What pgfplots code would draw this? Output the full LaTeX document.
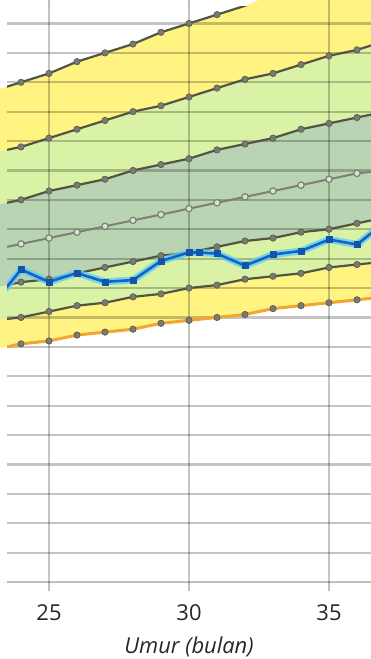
\documentclass[border=0pt]{standalone}
\usepackage{pgfplots}
\pgfplotsset{compat=1.18}
\usepackage{pgfplotstable}
\usepackage{fontspec}
\setmainfont{Open Sans}

\definecolor{zyellow}{RGB}{255,243,130}
\definecolor{zlgreen}{RGB}{218,242,166}
\definecolor{zdgreen}{RGB}{184,212,178}
\definecolor{curveline}{RGB}{82,84,68}
\definecolor{medline}{RGB}{125,128,115}
\definecolor{dotfill}{RGB}{122,122,112}
\definecolor{zorange}{RGB}{242,166,48}
\definecolor{childblue}{RGB}{22,98,200}
\definecolor{childglow}{RGB}{95,205,245}

% WHO weight-for-age (girls), z-score curves, kg
\pgfplotstableread{
m   m3   m2   m1    med   p1    p2    p3
23  7.9  8.9  10.0  11.3  12.8  14.6  16.7
24  8.1  9.0  10.2  11.5  13.0  14.8  17.0
25  8.2  9.2  10.3  11.7  13.3  15.1  17.3
26  8.4  9.4  10.5  11.9  13.5  15.4  17.7
27  8.5  9.5  10.7  12.1  13.7  15.7  18.0
28  8.6  9.7  10.9  12.3  14.0  16.0  18.3
29  8.8  9.8  11.1  12.5  14.2  16.2  18.7
30  8.9  10.0 11.2  12.7  14.4  16.5  19.0
31  9.0  10.1 11.4  12.9  14.7  16.8  19.3
32  9.1  10.3 11.6  13.1  14.9  17.1  19.6
33  9.3  10.4 11.7  13.3  15.1  17.3  20.0
34  9.4  10.5 11.9  13.5  15.4  17.6  20.3
35  9.5  10.7 12.0  13.7  15.6  17.9  20.6
36  9.6  10.8 12.2  13.9  15.8  18.1  20.9
37  9.7  10.9 12.4  14.0  16.0  18.4  21.2
}\whotable

% child's measurements
\pgfplotstableread{
m      w
23     9.45
24     10.63
25     10.21
26     10.51
27     10.21
28     10.27
29     10.92
30     11.21
30.35  11.21
31     11.17
32     10.76
33     11.14
34     11.26
35     11.65
36     11.48
37     12.24
}\childtable

\begin{document}
\begin{tikzpicture}
\begin{axis}[
  set layers,
  scale only axis,
  width=364bp, height=575bp,
  xmin=23.5, xmax=36.5, ymin=0, ymax=19.56,
  xtick={25,30,35},
  ytick={0,...,19},
  yticklabels={},
  ytick style={draw=none},
  xtick style={draw=black, draw opacity=0.25, line width=2bp},
  tick align=outside,
  major tick length=9bp,
  grid=major,
  grid style={draw=black, draw opacity=0.23, line width=2.2bp},
  axis line style={draw=none},
  /pgf/number format/assume math mode=true,
  tick label style={font=\fontsize{22}{26}\selectfont, text=black!85},
  xticklabel style={yshift=-10bp},
  xlabel={\itshape Umur (bulan)},
  xlabel style={font=\fontsize{22}{26}\selectfont, text=black!85, yshift=-9bp},
  every axis plot/.append style={line join=round},
]
% colour bands, painted from the top curve downwards
\addplot[fill=zyellow, draw=none, on layer=axis background] table[x=m,y=p3] {\whotable} \closedcycle;
\addplot[fill=zlgreen, draw=none, on layer=axis background] table[x=m,y=p2] {\whotable} \closedcycle;
\addplot[fill=zdgreen, draw=none, on layer=axis background] table[x=m,y=p1] {\whotable} \closedcycle;
\addplot[fill=zlgreen, draw=none, on layer=axis background] table[x=m,y=m1] {\whotable} \closedcycle;
\addplot[fill=zyellow, draw=none, on layer=axis background] table[x=m,y=m2] {\whotable} \closedcycle;
\addplot[fill=white, draw=none, on layer=axis background] table[x=m,y=m3] {\whotable} \closedcycle;

% z-score curves
\pgfplotsset{zcurve/.style={curveline, line width=2.2bp, mark=*, mark size=3.2bp,
  mark options={fill=dotfill, draw=dotfill!70!black, line width=0.6bp}}}
\addplot[zcurve] table[x=m,y=p3] {\whotable};
\addplot[zcurve] table[x=m,y=p2] {\whotable};
\addplot[zcurve] table[x=m,y=p1] {\whotable};
\addplot[medline, line width=2bp, mark=*, mark size=3.2bp,
  mark options={fill=zdgreen!60!white, draw=medline, line width=1.2bp}] table[x=m,y=med] {\whotable};
\addplot[zcurve] table[x=m,y=m1] {\whotable};
\addplot[zcurve] table[x=m,y=m2] {\whotable};
\addplot[zorange, line width=3bp, mark=*, mark size=3.2bp,
  mark options={fill=dotfill, draw=dotfill!70!black, line width=0.6bp}] table[x=m,y=m3] {\whotable};

% child's weight
\addplot[childglow, line width=7bp, opacity=0.8] table[x=m,y=w] {\childtable};
\addplot[childblue, line width=2.6bp, mark=square*, mark size=3bp,
  mark options={fill=childblue!85!black, draw=childblue!85!black, line width=0.5bp}] table[x=m,y=w] {\childtable};
\end{axis}
\pgfresetboundingbox
\path[use as bounding box] (-7bp,-77bp) rectangle (364bp,582bp);
\end{tikzpicture}
\end{document}
